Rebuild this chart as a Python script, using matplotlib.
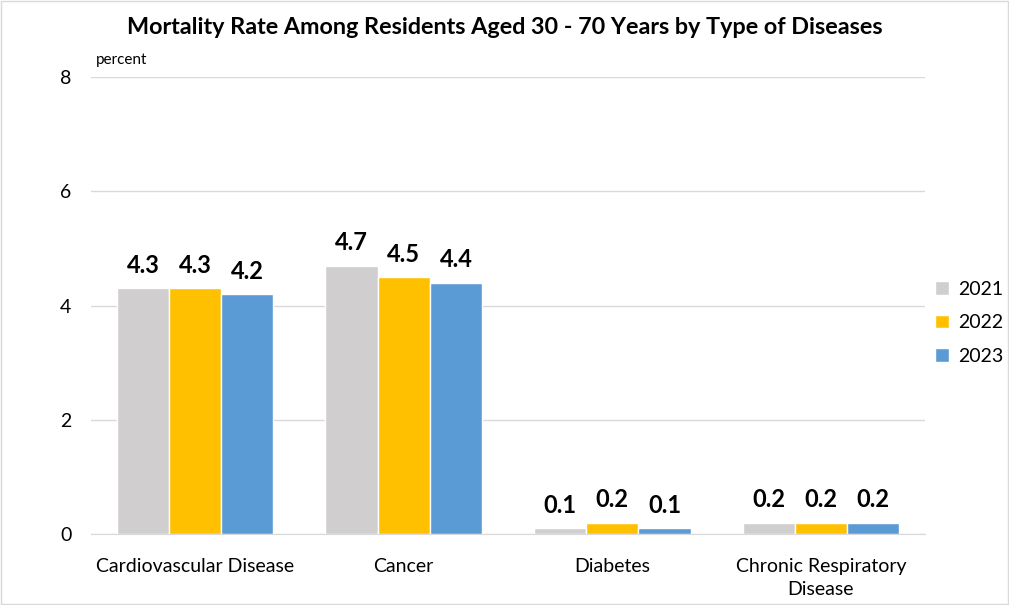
import numpy as np
import matplotlib.pyplot as plt

plt.rcParams['font.family'] = ['Lato', 'DejaVu Sans']

# Data
categories = ['Cardiovascular Disease', 'Cancer', 'Diabetes', 'Chronic Respiratory\nDisease']
years = ['2021', '2022', '2023']
rate_2021 = [4.3, 4.7, 0.1, 0.2]
rate_2022 = [4.3, 4.5, 0.2, 0.2]
rate_2023 = [4.2, 4.4, 0.1, 0.2]
colors = ['#D0CECE', '#FFC000', '#5B9BD5']

fig = plt.figure(figsize=(10.09, 6.05), dpi=100)
ax = fig.add_axes([0.090, 0.117, 0.827, 0.756])

x = np.arange(len(categories))
width = 0.25
series = [rate_2021, rate_2022, rate_2023]
for i, vals in enumerate(series):
    bars = ax.bar(x + (i - 1) * width, vals, width, color=colors[i],
                  edgecolor='white', linewidth=1, label=years[i], zorder=3)
    for b, v in zip(bars, vals):
        ax.text(b.get_x() + b.get_width() / 2, v + 0.2, f'{v:.1f}',
                ha='center', va='bottom', fontsize=17, fontweight='bold')

ax.set_xlim(-0.5, 3.5)
ax.set_ylim(0, 8)
ax.set_yticks([0, 2, 4, 6, 8])
ax.set_xticks(x)
ax.set_xticklabels(categories, fontsize=14, linespacing=1.45)
ax.tick_params(axis='y', labelsize=14, length=0, pad=14)
ax.tick_params(axis='x', length=0, pad=17)
ax.grid(axis='y', color='#D9D9D9', linewidth=1, zorder=0)
for s in ['top', 'right', 'left']:
    ax.spines[s].set_visible(False)
ax.spines['bottom'].set_color('#D9D9D9')

ax.text(0.006, 1.022, 'percent', transform=ax.transAxes, fontsize=11, va='bottom', ha='left')
fig.suptitle('Mortality Rate Among Residents Aged 30 - 70 Years by Type of Diseases',
             fontsize=16.8, fontweight='bold', y=0.972)

ax.legend(loc='center left', bbox_to_anchor=(1.012, 0.462), frameon=False, fontsize=14,
          borderaxespad=0, borderpad=0, handlelength=0.7, handleheight=0.7,
          handletextpad=0.5, labelspacing=0.85)

fig.patches.append(plt.Rectangle((0.001, 0.001), 0.998, 0.998, transform=fig.transFigure,
                                 fill=False, edgecolor='#D9D9D9', linewidth=1))

fig.savefig('out.png', dpi=100)
